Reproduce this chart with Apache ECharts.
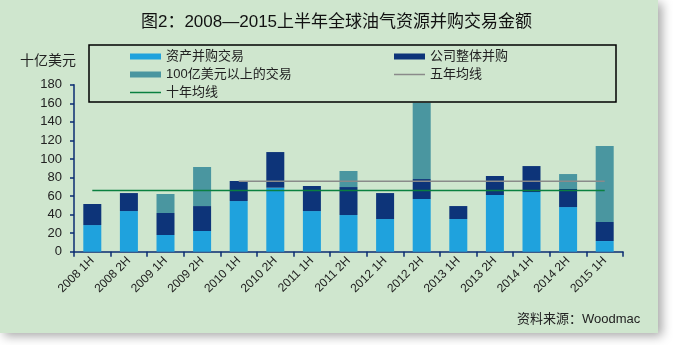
<!DOCTYPE html>
<html><head><meta charset="utf-8">
<script src="https://cdn.jsdelivr.net/npm/echarts@6/dist/echarts.min.js"></script>
<style>html,body{margin:0;padding:0;background:#fff;}#c{width:673px;height:345px;}</style>
</head><body><div id="c"></div>
<script>
var categories = ['2008 1H','2008 2H','2009 1H','2009 2H','2010 1H','2010 2H','2011 1H','2011 2H','2012 1H','2012 2H','2013 1H','2013 2H','2014 1H','2014 2H','2015 1H'];
var assetDeals = [28.7, 43.8, 18, 22.3, 54.6, 69, 43.8, 39.5, 35.2, 56.8, 35.2, 61.1, 64.3, 48.1, 11.5];
var corporateDeals = [22.7, 19.4, 23.7, 26.9, 21.6, 38.4, 27, 30.2, 28, 21.5, 14, 20.5, 28, 19.5, 20.5];
var bigDeals = [0, 0, 20.5, 42.1, 0, 0, 0, 17.3, 0, 82.3, 0, 0, 0, 16.1, 81.9];
var fiveYearAvg = [null, null, null, null, 76, 76, 76, 76, 76, 76, 76, 76, 76, 76, 76];
var tenYearAvg = [66, 66, 66, 66, 66, 66, 66, 66, 66, 66, 66, 66, 66, 66, 66];
var yTicks = [0, 20, 40, 60, 80, 100, 120, 140, 160, 180];

var chart = echarts.init(document.getElementById('c'), null, {renderer: 'canvas'});
var font = 'Arial, "Liberation Sans", "Noto Sans CJK SC", sans-serif';
var txt = '#222';
var navy = '#0b2d72';
var lineIcon = 'path://M0,0 H62 V3 H0 Z';
chart.setOption({
  backgroundColor: '#ffffff',
  animation: false,
  textStyle: {fontFamily: font},
  graphic: [
    {type: 'rect', z: -10, shape: {x: 0, y: 0, width: 658, height: 333},
      style: {fill: '#cfe6ce', shadowBlur: 10, shadowOffsetX: 4, shadowOffsetY: 3, shadowColor: 'rgba(0,0,0,0.35)'}},
    {type: 'rect', z: 5, shape: {x: 89, y: 45, width: 527, height: 57},
      style: {fill: 'none', stroke: '#000', lineWidth: 1.5}},
    {type: 'text', left: 517, top: 313, style: {text: '资料来源：Woodmac', fill: txt, font: '13px ' + font}}
  ],
  title: {
    text: '图2：2008—2015上半年全球油气资源并购交易金额',
    left: 'center', top: 9,
    textStyle: {fontSize: 17, fontWeight: 'normal', color: '#111', fontFamily: font}
  },
  legend: [
    {orient: 'vertical', left: 125, top: 45, itemWidth: 31, itemHeight: 6, itemGap: 5,
      textStyle: {fontSize: 13, color: txt, fontFamily: font},
      data: [{name: '资产并购交易', icon: 'rect'}, {name: '100亿美元以上的交易', icon: 'rect'}, {name: '十年均线', icon: lineIcon, itemStyle: {color: '#0a8040'}}]},
    {orient: 'vertical', left: 389, top: 45, itemWidth: 31, itemHeight: 6, itemGap: 5,
      textStyle: {fontSize: 13, color: txt, fontFamily: font},
      data: [{name: '公司整体并购', icon: 'rect'}, {name: '五年均线', icon: lineIcon, itemStyle: {color: '#8a8a8a'}}]}
  ],
  grid: {left: 74, right: 50, top: 84.7, bottom: 93.3},
  xAxis: {
    type: 'category', data: categories, boundaryGap: true,
    axisLine: {lineStyle: {color: navy, width: 1.5}},
    axisTick: {show: true, length: 5, lineStyle: {color: navy, width: 1.5}},
    axisLabel: {rotate: 45, fontSize: 12, color: txt, margin: 7, interval: 0}
  },
  yAxis: {
    type: 'value', min: 0, max: 180, interval: 20,
    name: '十亿美元', nameLocation: 'end', nameGap: 17,
    nameTextStyle: {fontSize: 14, color: txt, align: 'right', padding: [0, -2, 0, 0]},
    axisLine: {show: true, lineStyle: {color: navy, width: 1.5}},
    axisTick: {show: true, length: 4, lineStyle: {color: navy, width: 1.5}},
    axisLabel: {fontSize: 13, color: txt, margin: 12, formatter: function (v) { return yTicks.indexOf(v) >= 0 ? String(v) : ''; }},
    splitLine: {show: false}
  },
  series: [
    {name: '资产并购交易', type: 'bar', stack: 'a', barWidth: 18, data: assetDeals, itemStyle: {color: '#1fa2dd'}},
    {name: '公司整体并购', type: 'bar', stack: 'a', barWidth: 18, data: corporateDeals, itemStyle: {color: '#0d3479'}},
    {name: '100亿美元以上的交易', type: 'bar', stack: 'a', barWidth: 18, data: bigDeals, itemStyle: {color: '#4a96a0'}},
    {name: '五年均线', type: 'line', data: fiveYearAvg, symbol: 'none', color: '#8a8a8a', lineStyle: {color: '#8a8a8a', width: 1.5}, z: 4},
    {name: '十年均线', type: 'line', data: tenYearAvg, symbol: 'none', color: '#0a8040', lineStyle: {color: '#0a8040', width: 1.5}, z: 4}
  ]
});
</script></body></html>
